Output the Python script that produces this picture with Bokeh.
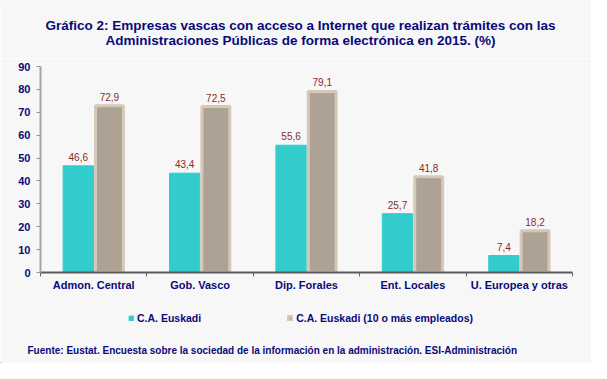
from bokeh.plotting import figure
from bokeh.layouts import column
from bokeh.models import (ColumnDataSource, Range1d, FixedTicker, LinearAxis, Label,
                          LabelSet, Legend, LegendItem)
from bokeh.core.properties import value
from bokeh.transform import dodge
from bokeh.embed import file_html
from bokeh.resources import INLINE

# ---- data ----
categories = ["Admon. Central", "Gob. Vasco", "Dip. Forales", "Ent. Locales", "U. Europea y otras"]
euskadi = [46.6, 43.4, 55.6, 25.7, 7.4]
euskadi_10 = [72.9, 72.5, 79.1, 41.8, 18.2]
series_names = ["C.A. Euskadi", "C.A. Euskadi (10 o más empleados)"]
y_ticks = [0, 10, 20, 30, 40, 50, 60, 70, 80, 90]
title_lines = ["Gráfico 2: Empresas vascas con acceso a Internet que realizan trámites con las",
               "Administraciones Públicas de forma electrónica en 2015. (%)"]
source_text = "Fuente: Eustat. Encuesta sobre la sociedad de la información en la administración. ESI-Administración"

def fmt(v):
    return f"{v:.1f}".replace(".", ",")

pos = [i + 0.5 for i in range(len(categories))]
src = ColumnDataSource(dict(
    x=pos, cat=categories,
    a=euskadi, b=euskadi_10,
    a_txt=[fmt(v) for v in euskadi], b_txt=[fmt(v) for v in euskadi_10],
))

NAVY = "#0a0a7a"
FONT = "Liberation Sans"
BG = "#f7f7f7"
CYAN = dict(fill_color="#33cccc", line_color="#33cccc", line_width=1)
TAN = dict(fill_color="#ada293", line_color="#d6c8b8", line_width=3)


def strip(height):
    # text-only strip: its ranges lie far away from the data, so nothing is drawn in it
    f = figure(width=591, height=height, output_backend="svg", toolbar_location=None,
               x_range=Range1d(1000, 1001), y_range=Range1d(1000, 1001),
               x_axis_type=None, y_axis_type=None,
               min_border_left=0, min_border_right=0, min_border_top=0, min_border_bottom=0,
               background_fill_color=BG, border_fill_color=BG, outline_line_color=None)
    f.grid.visible = False
    f.frame_align = False
    return f


# ---- title strip ----
p0 = strip(58)
for i, line in enumerate(title_lines):
    p0.add_layout(Label(x=300, y=33 - 15 * i, x_units="screen", y_units="screen", text=line,
                        text_font=FONT, text_font_style="bold", text_font_size="13.5px",
                        text_color=NAVY, text_align="center", text_baseline="alphabetic"))

# ---- main chart ----
p = figure(width=591, height=242, output_backend="svg", toolbar_location=None,
           x_range=Range1d(0, len(categories)), y_range=Range1d(0, 90),
           x_axis_type=None, y_axis_type=None,
           min_border_left=40, min_border_right=19, min_border_top=8, min_border_bottom=28,
           background_fill_color=BG, border_fill_color=BG, outline_line_color=None)

yax = LinearAxis(ticker=FixedTicker(ticks=y_ticks))
yax.axis_line_color = "#aaa2aa"
yax.axis_line_width = 2
yax.major_tick_out = 4
yax.major_tick_in = 0
yax.major_tick_line_color = "#8a9a8a"
yax.minor_tick_line_color = None
yax.major_label_text_font = FONT
yax.major_label_text_font_style = "bold"
yax.major_label_text_font_size = "11px"
yax.major_label_text_color = NAVY
yax.major_label_standoff = 6
p.add_layout(yax, "left")

xax = LinearAxis(ticker=FixedTicker(ticks=pos, minor_ticks=list(range(len(categories) + 1))))
xax.major_label_overrides = {x: c for x, c in zip(pos, categories)}
xax.axis_line_color = "#5a5a5a"
xax.axis_line_width = 2
xax.major_tick_line_color = None
xax.minor_tick_out = 4
xax.minor_tick_in = 0
xax.minor_tick_line_color = "#666666"
xax.major_label_text_font = FONT
xax.major_label_text_font_style = "bold"
xax.major_label_text_font_size = "11px"
xax.major_label_text_color = NAVY
xax.major_label_standoff = 0
p.add_layout(xax, "below")

p.ygrid.ticker = FixedTicker(ticks=y_ticks[1:])
p.ygrid.grid_line_color = "#cfcfcf"
p.ygrid.grid_line_dash = "3 2"
p.xgrid.grid_line_color = None

p.vbar(x=dodge("x", -0.145, range=p.x_range), top="a", width=0.285, source=src, **CYAN)
p.vbar(x=dodge("x", 0.148, range=p.x_range), top="b", width=0.262, source=src, **TAN)

lab_style = dict(text_font=value(FONT), text_font_size=value("10px"), text_color=value("#8b2a2a"),
                 text_align="center", text_baseline="alphabetic", y_offset=5, source=src)
p.add_layout(LabelSet(x=dodge("x", -0.145, range=p.x_range), y="a", text="a_txt", **lab_style))
p.add_layout(LabelSet(x=dodge("x", 0.148, range=p.x_range), y="b", text="b_txt", **lab_style))

# ---- lower strip: legend + source ----
p2 = strip(63)
# legend swatches: same series and styles, lying outside this strip's ranges (not visible)
g1 = p2.vbar(x="x", top="a", width=0.285, source=src, **CYAN)
g2 = p2.vbar(x="x", top="b", width=0.262, source=src, **TAN)

legend = Legend(items=[LegendItem(label=series_names[0], renderers=[g1]),
                       LegendItem(label=series_names[1], renderers=[g2])],
                location=(128, 39), orientation="horizontal",
                glyph_width=6, glyph_height=6, label_standoff=3, spacing=86,
                padding=0, margin=0, label_height=10,
                background_fill_alpha=0, border_line_color=None,
                label_text_font=FONT, label_text_font_style="bold",
                label_text_font_size="10.5px", label_text_color=NAVY)
p2.add_layout(legend, "center")

p2.add_layout(Label(x=27, y=13, x_units="screen", y_units="screen", text=source_text,
                    text_font=FONT, text_font_style="bold", text_font_size="10px",
                    text_color=NAVY, text_align="left", text_baseline="alphabetic"))

layout = column(p0, p, p2, spacing=0)
open("out.html", "w").write(file_html(layout, INLINE))
